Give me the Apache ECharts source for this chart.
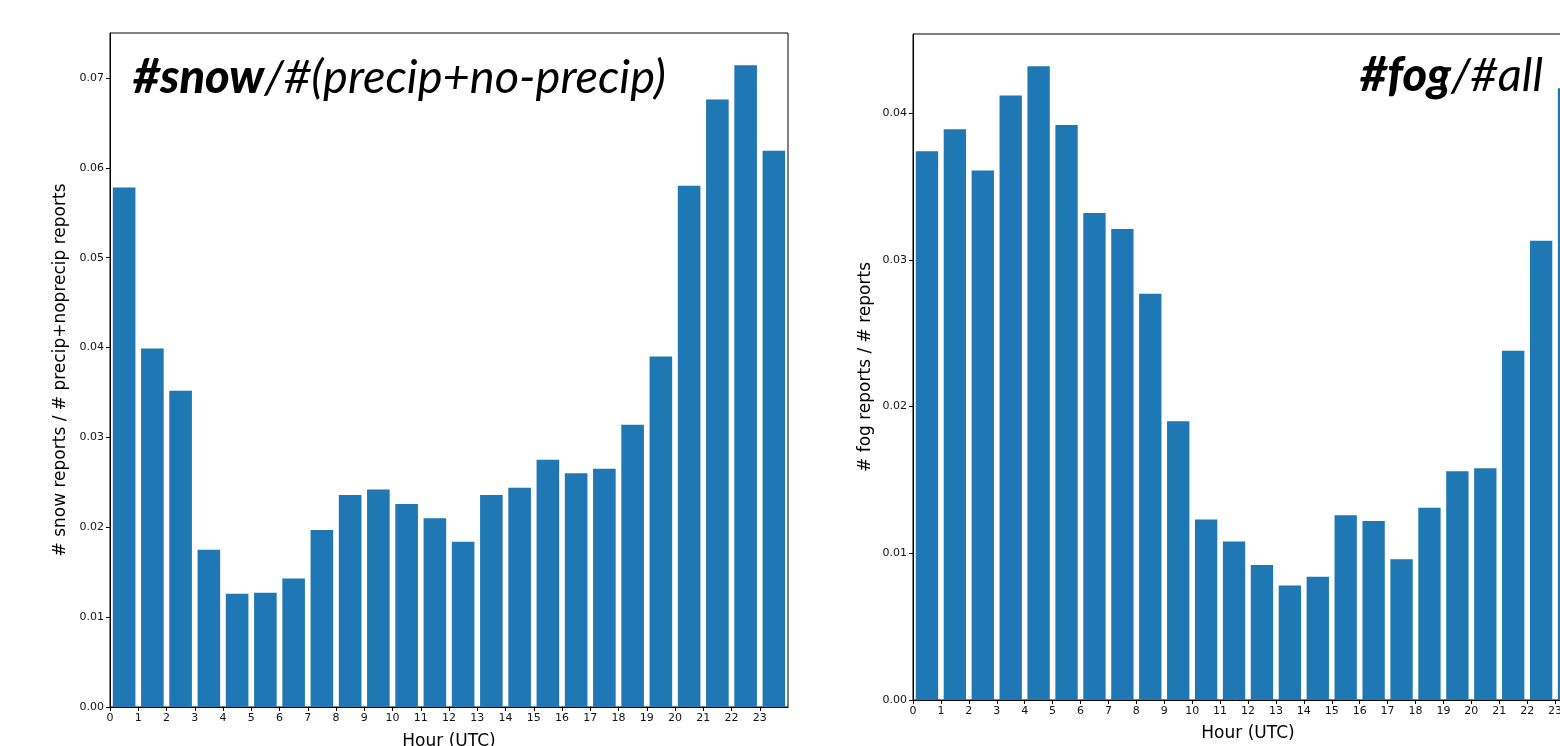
<!DOCTYPE html>
<html>
<head>
<meta charset="utf-8">
<script src="https://cdn.jsdelivr.net/npm/echarts@6/dist/echarts.min.js"></script>
<style>
html,body{margin:0;padding:0;background:#fff;}
#chart{width:1560px;height:746px;}
</style>
</head>
<body>
<div id="chart"></div>
<script>
// ---- data ----
const hours = [0,1,2,3,4,5,6,7,8,9,10,11,12,13,14,15,16,17,18,19,20,21,22,23];
const snowRatio = [0.0578,0.0399,0.0352,0.0175,0.0126,0.0127,0.0143,0.0197,0.0236,0.0242,0.0226,0.0210,
                   0.0184,0.0236,0.0244,0.0275,0.0260,0.0265,0.0314,0.0390,0.0580,0.0676,0.0714,0.0619];
const fogRatio  = [0.0374,0.0389,0.0361,0.0412,0.0432,0.0392,0.0332,0.0321,0.0277,0.0190,0.0123,0.0108,
                   0.0092,0.0078,0.0084,0.0126,0.0122,0.0096,0.0131,0.0156,0.0158,0.0238,0.0313,0.0417];
const snowTitleBold = '#snow', snowTitleRest = '/#(precip+no-precip)';
const fogTitleBold = '#fog', fogTitleRest = '/#all';
const snowYName = '# snow reports / # precip+noprecip reports';
const fogYName = '# fog reports / # reports';
const xName = 'Hour (UTC)';
const snowYMax = 0.075, fogYMax = 0.0454;

const BAR = '#1f77b4';
const FONT = 'DejaVu Sans';
const chart = echarts.init(document.getElementById('chart'), null, {renderer:'canvas'});

function barItem(params, api) {
  const h = api.value(0), v = api.value(1);
  const p1 = api.coord([h + 0.1, v]);
  const p2 = api.coord([h + 0.9, 0]);
  return {type:'rect', shape:{x:p1[0], y:p1[1], width:p2[0]-p1[0], height:p2[1]-p1[1]},
          style:{fill: BAR}};
}
function xAxis(gi) {
  return {
    type:'value', gridIndex: gi, min:0, max:24, interval:1,
    name: xName, nameLocation:'middle', nameGap: gi===0 ? 26 : 25,
    nameTextStyle:{fontFamily:FONT, fontSize:17, color:'#000', verticalAlign:'top'},
    axisLine:{show:true, onZero:false, lineStyle:{color:'#000', width:1}},
    axisTick:{show:true, length:4, lineStyle:{color:'#000'}},
    axisLabel:{fontFamily:FONT, fontSize:11, color:'#111', margin:6, showMaxLabel:false,
               formatter: v => String(v)},
    splitLine:{show:false}
  };
}
function yAxis(gi, max, name, gap) {
  return {
    type:'value', gridIndex: gi, min:0, max:max, interval:0.01,
    name: name, nameLocation:'middle', nameGap: gap,
    nameTextStyle:{fontFamily:FONT, fontSize:17, color:'#000'},
    axisLine:{show:true, lineStyle:{color:'#000', width:1}},
    axisTick:{show:true, length:4, lineStyle:{color:'#000'}},
    axisLabel:{fontFamily:FONT, fontSize:11, color:'#111', margin:6, showMaxLabel:false,
               formatter: v => v.toFixed(2)},
    splitLine:{show:false}
  };
}
const titleRich = (size) => ({
  b:{fontFamily:'Lato', fontStyle:'italic', fontWeight:900, fontSize:size, color:'#000'},
  n:{fontFamily:'Lato', fontStyle:'italic', fontWeight:'normal', fontSize:size, color:'#000'}
});

chart.setOption({
  animation:false,
  backgroundColor:'#fff',
  grid:[
    {left:110, top:33, width:678, height:674, outerBoundsMode:'none', containLabel:false,
     show:true, borderColor:'#000', borderWidth:1, backgroundColor:'transparent'},
    {left:913, top:34, width:670, height:666, outerBoundsMode:'none', containLabel:false,
     show:true, borderColor:'#000', borderWidth:1, backgroundColor:'transparent'}
  ],
  title:[
    {left:128, top:49, text:'{b|' + snowTitleBold + '}{n|' + snowTitleRest + '}', textStyle:{rich: titleRich(47)}},
    {left:1355, top:47, text:'{b|' + fogTitleBold + '}{n|' + fogTitleRest + '}', textStyle:{rich: titleRich(47)}}
  ],
  xAxis:[xAxis(0), xAxis(1)],
  yAxis:[yAxis(0, snowYMax, snowYName, 41), yAxis(1, fogYMax, fogYName, 39)],
  series:[
    {type:'custom', xAxisIndex:0, yAxisIndex:0, renderItem: barItem,
     data: hours.map((h,i)=>[h, snowRatio[i]]), encode:{x:0, y:1}},
    {type:'custom', xAxisIndex:1, yAxisIndex:1, renderItem: barItem,
     data: hours.map((h,i)=>[h, fogRatio[i]]), encode:{x:0, y:1}}
  ]
});
</script>
</body>
</html>
